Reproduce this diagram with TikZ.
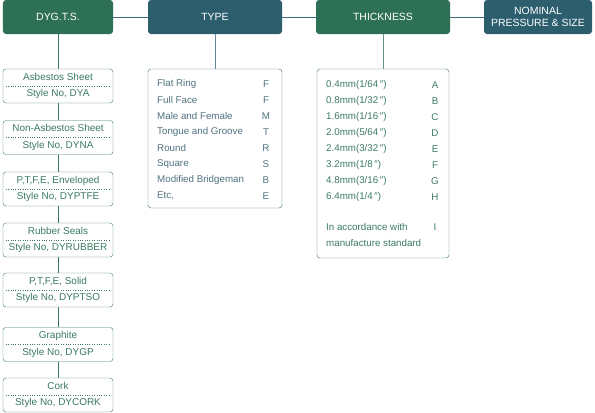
\documentclass[tikz,border=0pt]{standalone}
\usepackage{fontspec}
\setmainfont{Liberation Sans}

\definecolor{hdgreen}{HTML}{2E7055}
\definecolor{hdteal}{HTML}{2C5E6E}
\definecolor{txgreen}{HTML}{3A7A5E}
\definecolor{txteal}{HTML}{4F717E}
\definecolor{lngreen}{HTML}{3C7A5E}
\definecolor{lnteal}{HTML}{3E6C7A}

\tikzset{
  head/.style={rounded corners=3bp, minimum height=34bp, inner sep=0pt,
    text=white, align=center, font=\fontsize{10.5}{12.5}\selectfont},
  stylebox/.style={draw=lngreen, rounded corners=3bp, minimum width=110bp,
    minimum height=34bp, inner sep=0pt, text=txgreen, align=center,
    font=\fontsize{10}{16.5}\selectfont},
  listbox/.style={rounded corners=3bp, minimum width=#1, inner sep=0pt},
  item/.style={anchor=west, inner sep=0pt, font=\fontsize{9.8}{11}\selectfont},
  code/.style={inner sep=0pt, font=\fontsize{9.8}{11}\selectfont}
}

\begin{document}
\begin{tikzpicture}[x=1bp,y=-1bp]
\useasboundingbox (0,0) rectangle (595,412);

% headers
\node (dyg) at (58,17) [head, fill=hdgreen, minimum width=110bp] {DYG.T.S.};
\node (type) at (215,17) [head, fill=hdteal, minimum width=134bp] {TYPE};
\node (thick) at (383,17) [head, fill=hdgreen, minimum width=134bp] {THICKNESS};
\node (nominal) at (538,17) [head, fill=hdteal, minimum width=108bp] {NOMINAL\\PRESSURE \& SIZE};

\draw [lnteal] (dyg) -- (type);
\draw [lnteal] (type) -- (thick);
\draw [lnteal] (thick) -- (nominal);

% styles
\node (s1) at (58,86) [stylebox] {Asbestos Sheet\\Style No, DYA};
\node (s2) at (58,137.5) [stylebox] {Non-Asbestos Sheet\\Style No, DYNA};
\node (s3) at (58,189) [stylebox] {P,T,F,E, Enveloped\\Style No, DYPTFE};
\node (s4) at (58,240) [stylebox] {Rubber Seals\\Style No, DYRUBBER};
\node (s5) at (58,290) [stylebox] {P,T,F,E, Solid\\Style No, DYPTSO};
\node (s6) at (58,344.5) [stylebox] {Graphite\\Style No, DYGP};
\node (s7) at (58,395) [stylebox] {Cork\\Style No, DYCORK};

\foreach \i in {1,...,7}
  \draw [lngreen, dotted] ([xshift=3bp]s\i.west) -- ([xshift=-3bp]s\i.east);

\draw [lngreen] (dyg) -- (s1);
\foreach \i/\j in {1/2,2/3,3/4,4/5,5/6,6/7}
  \draw [lngreen] (s\i) -- (s\j);

% type
\node (typelist) at (215,138.5) [listbox=134bp, draw=lnteal, minimum height=139bp] {};
\draw [lnteal!80] (type) -- (typelist);

\foreach \t/\c [count=\i from 0] in {Flat Ring/F, Full Face/F, Male and Female/M,
    Tongue and Groove/T, Round/R, Square/S, Modified Bridgeman/B, {Etc,}/E} {
  \node (ty\i) at (157,84+16*\i) [item, text=txteal] {\t};
  \node (tc\i) at (266,84+16*\i) [code, text=txteal] {\c};
}

% thickness
\node (thicklist) at (383,163.5) [listbox=132bp, draw=lngreen, minimum height=189bp] {};
\draw [lngreen!80] (thick) -- (thicklist);

\foreach \t/\c [count=\i from 0] in {{0.4mm(1/64\,″)}/A, {0.8mm(1/32\,″)}/B,
    {1.6mm(1/16\,″)}/C, {2.0mm(5/64\,″)}/D, {2.4mm(3/32\,″)}/E, {3.2mm(1/8\,″)}/F,
    {4.8mm(3/16\,″)}/G, {6.4mm(1/4\,″)}/H} {
  \node (th\i) at (326,85+16*\i) [item, text=txgreen] {\t};
  \node (tk\i) at (435,85+16*\i) [code, text=txgreen] {\c};
}
\node (std1) at (326,227) [item, text=txgreen] {In accordance with};
\node (std2) at (326,243) [item, text=txgreen] {manufacture standard};
\node (stdc) at (435,227) [code, text=txgreen] {I};

\end{tikzpicture}
\end{document}
